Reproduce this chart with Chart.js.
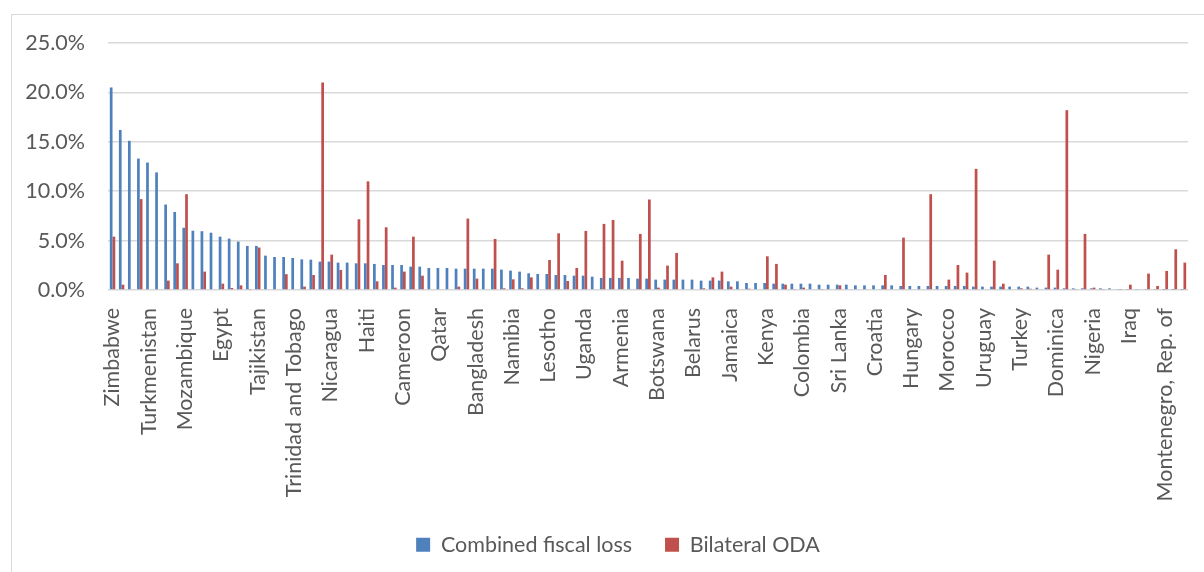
<!DOCTYPE html>
<html>
<head>
<meta charset="utf-8">
<script src="https://cdn.jsdelivr.net/npm/chart.js@4/dist/chart.umd.min.js"></script>
<style>
    body { margin: 0; background: #fff; }
    #frame {
        position: absolute; left: 11px; top: 14px;
        width: 1300px; height: 700px;
        border: 1px solid #d9d9d9;
    }
    #fiscal-chart { position: absolute; left: 0; top: 0; }
</style>
</head>
<body>
<div id="frame"></div>
<canvas id="fiscal-chart" width="1204" height="572"></canvas>
<script>
// only every fourth country is labelled on the axis
const tickLabels = [
    'Zimbabwe', 'Turkmenistan', 'Mozambique', 'Egypt', 'Tajikistan',
    'Trinidad and Tobago', 'Nicaragua', 'Haiti', 'Cameroon', 'Qatar',
    'Bangladesh', 'Namibia', 'Lesotho', 'Uganda', 'Armenia',
    'Botswana', 'Belarus', 'Jamaica', 'Kenya', 'Colombia',
    'Sri Lanka', 'Croatia', 'Hungary', 'Morocco', 'Uruguay',
    'Turkey', 'Dominica', 'Nigeria', 'Iraq', 'Montenegro, Rep. of',
];

// % values
const fiscalLoss = [
    20.5, 16.2, 15.1, 13.3, 12.9, 11.9, 8.65, 7.9, 6.3, 6.0,
    5.95, 5.8, 5.4, 5.2, 4.9, 4.46, 4.46, 3.48, 3.34, 3.34,
    3.24, 3.1, 3.07, 2.87, 2.87, 2.77, 2.77, 2.7, 2.7, 2.64,
    2.53, 2.53, 2.53, 2.36, 2.36, 2.23, 2.23, 2.23, 2.16, 2.16,
    2.16, 2.16, 2.16, 2.06, 1.96, 1.86, 1.69, 1.62, 1.62, 1.52,
    1.52, 1.45, 1.45, 1.35, 1.22, 1.22, 1.22, 1.22, 1.15, 1.15,
    1.05, 1.05, 1.05, 1.05, 1.05, 0.95, 0.95, 0.95, 0.88, 0.88,
    0.71, 0.71, 0.71, 0.64, 0.64, 0.64, 0.64, 0.64, 0.54, 0.54,
    0.54, 0.54, 0.47, 0.47, 0.47, 0.47, 0.47, 0.41, 0.41, 0.41,
    0.41, 0.41, 0.41, 0.41, 0.41, 0.34, 0.34, 0.34, 0.34, 0.34,
    0.34, 0.34, 0.24, 0.24, 0.24, 0.17, 0.17, 0.17, 0.17, 0.17,
    0.17, 0.1, 0.1, 0.1, 0.1, 0.1, 0.03, 0.03, 0.03,
];

const bilateralOda = [
    5.4, 0.54, 0, 9.2, 0, 0, 0.95, 2.7, 9.7, 0,
    1.86, 0, 0.64, 0.2, 0.47, 0.05, 4.3, 0, 0, 1.6,
    0, 0.34, 1.52, 21.0, 3.58, 2.03, 0, 7.16, 11.0, 0.88,
    6.35, 0.24, 1.86, 5.4, 1.45, 0, 0, 0, 0.34, 7.23,
    1.15, 0, 5.17, 0.17, 1.08, 0.17, 1.28, 0, 3.04, 5.74,
    0.91, 2.23, 5.98, 0, 6.69, 7.09, 2.97, 0, 5.68, 9.16,
    0.24, 2.47, 3.75, 0, 0, 0.17, 1.28, 1.86, 0.34, 0,
    0.13, 0, 3.41, 2.64, 0.54, 0.1, 0.24, 0, 0.05, 0,
    0.47, 0, 0, 0, 0, 1.52, 0, 5.3, 0, 0,
    9.7, 0, 1.05, 2.53, 1.76, 12.26, 0, 2.97, 0.64, 0,
    0.17, 0.13, 0, 3.58, 2.06, 18.2, 0.1, 5.68, 0.24, 0.1,
    0, 0.05, 0.54, 0, 1.66, 0.41, 1.93, 4.12, 2.77,
];

const yTicks = [0, 5, 10, 15, 20, 25];

(function () {
    const ctx = document.getElementById('fiscal-chart');
    const font = {family: 'Lato', size: 21.5};
    const textColor = '#595959';
    const gridColor = '#d9d9d9';

    // blank label for the countries the axis skips
    const categories = fiscalLoss.map((v, i) => i % 4 === 0 ? tickLabels[i / 4] : '');

    // legend in the original sits a little right of the canvas centre
    const legendShift = {
        id: 'legendShift',
        afterLayout(chart) {
            chart.legend.left += 24;
            chart.legend.right += 24;
        },
    };

    new Chart(ctx, {
        type: 'bar',
        data: {
            labels: categories,
            datasets: [
                {label: 'Combined fiscal loss', data: fiscalLoss, backgroundColor: '#4F81BD'},
                {label: 'Bilateral ODA', data: bilateralOda, backgroundColor: '#C0504D'},
            ],
        },
        plugins: [legendShift],
        options: {
            responsive: false,
            animation: false,
            categoryPercentage: 0.6,
            barPercentage: 1.0,
            layout: {
                padding: {left: 0, top: 43, right: 16, bottom: 6.5},
            },
            scales: {
                x: {
                    grid: {display: false},
                    border: {display: false},
                    ticks: {
                        autoSkip: false,
                        minRotation: 90,
                        maxRotation: 90,
                        padding: 10,
                        color: textColor,
                        font: font,
                    },
                    afterFit: scale => {
                        scale.height = 211;
                        // don't reserve room for the rotated end labels
                        scale.paddingLeft = 0;
                        scale.paddingRight = 0;
                    },
                },
                y: {
                    min: 0,
                    max: 25,
                    afterBuildTicks: scale => {
                        scale.ticks = yTicks.map(v => ({value: v}));
                    },
                    grid: {color: gridColor, lineWidth: 1.5, drawTicks: false},
                    border: {display: false},
                    ticks: {
                        padding: 23,
                        color: textColor,
                        font: font,
                        callback: v => v.toFixed(1) + '%',
                    },
                    afterFit: scale => { scale.width = 108; },
                },
            },
            plugins: {
                tooltip: {enabled: false},
                legend: {
                    position: 'bottom',
                    labels: {
                        boxWidth: 14,
                        boxHeight: 14,
                        padding: 33,
                        color: textColor,
                        font: font,
                    },
                },
            },
        },
    });
})();
</script>
</body>
</html>
